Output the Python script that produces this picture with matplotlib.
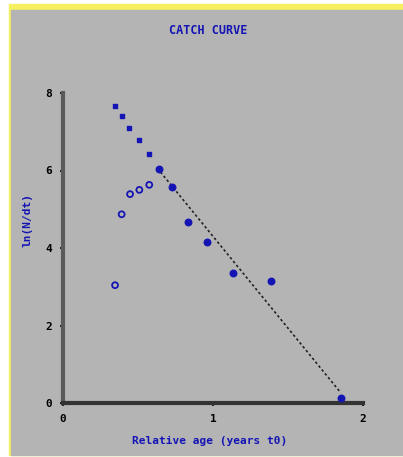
import matplotlib.pyplot as plt
from matplotlib.patches import Rectangle

# upper descending limb (small filled squares)
left_x = [0.347, 0.395, 0.442, 0.507, 0.573]
left_y = [7.66, 7.41, 7.10, 6.79, 6.43]

# ascending limb (open circles)
open_x = [0.347, 0.391, 0.447, 0.509, 0.575]
open_y = [3.04, 4.87, 5.39, 5.50, 5.63]

# points used in the regression (filled circles)
fit_pts_x = [0.642, 0.724, 0.836, 0.962, 1.131, 1.384, 1.851]
fit_pts_y = [6.04, 5.58, 4.68, 4.16, 3.35, 3.16, 0.12]

# regression line end points
line_x = [0.65, 1.842]
line_y = [5.96, 0.31]

xticks = [0, 1, 2]
yticks = [0, 2, 4, 6, 8]

W, H = 403, 457
BLUE = "#1414b4"
GRAY = "#b4b4b4"

fig = plt.figure(figsize=(W / 100, H / 100), dpi=100, facecolor="white")
fig.patches.append(Rectangle((9 / W, 2 / H), 1 - 9 / W, 1 - 6 / H,
                             transform=fig.transFigure, color="#f5f060", zorder=-10))
fig.patches.append(Rectangle((11 / W, 2 / H), 1 - 11 / W, 1 - 12 / H,
                             transform=fig.transFigure, color=GRAY, zorder=-9))

ax = fig.add_axes([63 / W, 54 / H, 300 / W, 310 / H])
ax.patch.set_alpha(0)

ax.plot(line_x, line_y, linestyle=(0, (1.5, 1.5)), color="#222222", lw=1.2, zorder=2)
ax.scatter(left_x, left_y, marker="s", s=9, color=BLUE, zorder=3)
ax.scatter(open_x, open_y, marker="o", s=18, facecolors="none", edgecolors=BLUE,
           linewidths=1.3, zorder=3)
ax.scatter(fit_pts_x, fit_pts_y, marker="o", s=22, color=BLUE, zorder=3)

ax.set_xlim(0, 2)
ax.set_ylim(0, 8)
ax.set_xticks(xticks)
ax.set_yticks(yticks)
mono = {"family": "DejaVu Sans Mono", "weight": "bold"}
ax.set_xticklabels([str(t) for t in xticks], fontdict=mono, fontsize=8)
ax.set_yticklabels([str(t) for t in yticks], fontdict=mono, fontsize=8)
ax.tick_params(length=2, width=1.5, color="#222222", pad=6)

for side in ["top", "right"]:
    ax.spines[side].set_visible(False)
for side in ["left", "bottom"]:
    ax.spines[side].set_linewidth(3)
    ax.spines[side].set_color("#5a5a5a")
ax.spines["bottom"].set_color("#333333")

fig.text(208 / W, 1 - 31 / H, "CATCH CURVE", ha="center", va="center",
         color=BLUE, fontsize=8.5, **mono)
fig.text(210 / W, 1 - 441 / H, "Relative age (years t0)", ha="center", va="center",
         color=BLUE, fontsize=8, **mono)
fig.text(27 / W, 1 - 220 / H, "ln(N/dt)", ha="center", va="center", rotation=90,
         color=BLUE, fontsize=8, **mono)

fig.savefig("out.png", dpi=100, facecolor=fig.get_facecolor())
